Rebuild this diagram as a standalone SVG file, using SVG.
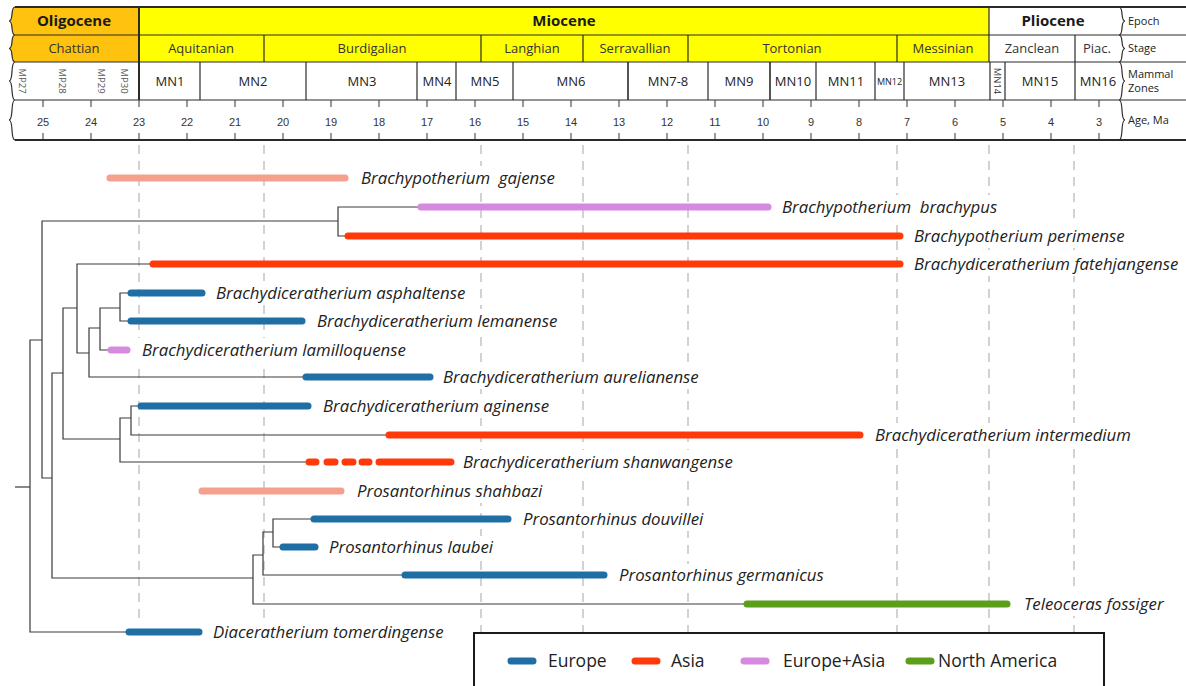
<svg xmlns="http://www.w3.org/2000/svg" width="1186" height="686" viewBox="0 0 1186 686">
<style>
.hl{stroke:#2a2a2a;stroke-width:1.2;fill:none}
.hth{stroke:#2a2a2a;stroke-width:2;fill:none}
.ep{font-family:"Open Sans",sans-serif;font-weight:bold;font-size:15px;fill:#1a1a1a;text-anchor:middle}
.st{font-family:"Open Sans",sans-serif;font-size:13px;fill:#333;text-anchor:middle}
.mn{font-family:"Open Sans",sans-serif;font-size:13px;fill:#222;text-anchor:middle}
.mp{font-family:"Open Sans",sans-serif;font-size:9.5px;fill:#555;text-anchor:middle}
.age{font-family:"Liberation Sans",Arial,sans-serif;font-size:11px;fill:#333;text-anchor:middle}
.rl{font-family:"Open Sans",sans-serif;font-size:11px;fill:#222}
.tick{stroke:#333;stroke-width:1}
.grid{stroke:#c4c4c4;stroke-width:1.5;stroke-dasharray:9 7;fill:none}
.br{stroke:#3a3a3a;stroke-width:1.2;fill:none}
.bar{stroke-width:7;stroke-linecap:round;fill:none}
.eu{stroke:#1f6fa5}
.as{stroke:#ff3a08}
.ea{stroke:#d58ae0}
.na{stroke:#5a9e1a}
.sa{stroke:#f5a08e}
.lab{font-family:"Open Sans",sans-serif;font-style:italic;font-size:16.8px;fill:#222}
.bg{fill:#fff}
.leg{font-family:"Open Sans",sans-serif;font-size:17.5px;fill:#222}
</style>

<g id="timescale">
  <path d="M15,7 C10,7 14,21 9,21 C14,21 10,35 15,35 C10,35 14,48.5 9,48.5 C14,48.5 10,62 15,62 L139,62 L139,7 Z" fill="#ffc20e"/>
  <rect x="139" y="7" width="850" height="55" fill="#ffff00"/>
  <path class="hl" d="M15,7 C10,7 14,21 9,21 C14,21 10,35 15,35 C10,35 14,48.5 9,48.5 C14,48.5 10,62 15,62 C10,62 14,81 9,81 C14,81 10,100 15,100 C10,100 14,120 9,120 C14,120 10,140 15,140"/>
  <path class="hl" d="M1119,7 C1124,7 1120,21 1125,21 C1120,21 1124,35 1119,35 C1124,35 1120,48.5 1125,48.5 C1120,48.5 1124,62 1119,62 C1124,62 1120,81 1125,81 C1120,81 1124,100 1119,100 C1124,100 1120,120 1125,120 C1120,120 1124,140 1119,140"/>
  <line class="hth" x1="15" y1="7" x2="1186" y2="7"/>
  <line class="hl" x1="15" y1="35" x2="1186" y2="35"/>
  <line class="hl" x1="15" y1="62" x2="1186" y2="62"/>
  <line class="hl" x1="15" y1="100" x2="1186" y2="100"/>
  <line class="hth" x1="15" y1="140" x2="1186" y2="140"/>
  <line class="hth" x1="139" y1="7" x2="139" y2="100"/>
  <line class="hl" x1="989" y1="7" x2="989" y2="62"/>
  <g class="hl">
    <line x1="264" y1="35" x2="264" y2="62"/>
    <line x1="481" y1="35" x2="481" y2="62"/>
    <line x1="583" y1="35" x2="583" y2="62"/>
    <line x1="688" y1="35" x2="688" y2="62"/>
    <line x1="897" y1="35" x2="897" y2="62"/>
    <line x1="1075" y1="35" x2="1075" y2="62"/>
  </g>
  <g class="hl">
    <line x1="200" y1="62" x2="200" y2="100"/>
    <line x1="306" y1="62" x2="306" y2="100"/>
    <line x1="417" y1="62" x2="417" y2="100"/>
    <line x1="456" y1="62" x2="456" y2="100"/>
    <line x1="513" y1="62" x2="513" y2="100"/>
    <line x1="628" y1="62" x2="628" y2="100" style="stroke-width:1.6"/>
    <line x1="708" y1="62" x2="708" y2="100"/>
    <line x1="770" y1="62" x2="770" y2="100" style="stroke-width:1.6"/>
    <line x1="816" y1="62" x2="816" y2="100"/>
    <line x1="875" y1="62" x2="875" y2="100"/>
    <line x1="904" y1="62" x2="904" y2="100"/>
    <line x1="990" y1="62" x2="990" y2="100"/>
    <line x1="1005" y1="62" x2="1005" y2="100"/>
    <line x1="1075" y1="62" x2="1075" y2="100"/>
  </g>
  <text class="ep" x="74" y="26">Oligocene</text>
  <text class="ep" x="564" y="26">Miocene</text>
  <text class="ep" x="1053" y="26">Pliocene</text>
  <text class="st" x="74" y="53">Chattian</text>
  <text class="st" x="201" y="53">Aquitanian</text>
  <text class="st" x="372" y="53">Burdigalian</text>
  <text class="st" x="532" y="53">Langhian</text>
  <text class="st" x="635" y="53">Serravallian</text>
  <text class="st" x="792" y="53">Tortonian</text>
  <text class="st" x="943" y="53">Messinian</text>
  <text class="st" x="1032" y="53">Zanclean</text>
  <text class="st" x="1097" y="53">Piac.</text>
  <text class="mp" transform="translate(22,81) rotate(90)" x="0" y="3.5">MP27</text>
  <text class="mp" transform="translate(62,81) rotate(90)" x="0" y="3.5">MP28</text>
  <text class="mp" transform="translate(101,81) rotate(90)" x="0" y="3.5">MP29</text>
  <text class="mp" transform="translate(124,81) rotate(90)" x="0" y="3.5">MP30</text>
  <text class="mn" x="170" y="86">MN1</text>
  <text class="mn" x="253" y="86">MN2</text>
  <text class="mn" x="362" y="86">MN3</text>
  <text class="mn" x="437" y="86">MN4</text>
  <text class="mn" x="485" y="86">MN5</text>
  <text class="mn" x="571" y="86">MN6</text>
  <text class="mn" x="668" y="86">MN7-8</text>
  <text class="mn" x="739" y="86">MN9</text>
  <text class="mn" x="793" y="86">MN10</text>
  <text class="mn" x="846" y="86">MN11</text>
  <text class="mn" x="889.5" y="85" style="font-size:9px">MN12</text>
  <text class="mp" transform="translate(997.5,81) rotate(90)" x="0" y="3.5" style="fill:#333">MN14</text>
  <text class="mn" x="947" y="86">MN13</text>
  <text class="mn" x="1040" y="86">MN15</text>
  <text class="mn" x="1098" y="86">MN16</text>
  <text class="rl" x="1128" y="25">Epoch</text>
  <text class="rl" x="1128" y="52">Stage</text>
  <text class="rl" x="1128" y="78">Mammal</text>
  <text class="rl" x="1128" y="92">Zones</text>
  <text class="rl" x="1128" y="124">Age, Ma</text>
  <g class="tick">
    <line x1="43" y1="100" x2="43" y2="107"/><line x1="43" y1="133" x2="43" y2="140"/>
    <line x1="91" y1="100" x2="91" y2="107"/><line x1="91" y1="133" x2="91" y2="140"/>
    <line x1="139" y1="100" x2="139" y2="107"/><line x1="139" y1="133" x2="139" y2="140"/>
    <line x1="187" y1="100" x2="187" y2="107"/><line x1="187" y1="133" x2="187" y2="140"/>
    <line x1="235" y1="100" x2="235" y2="107"/><line x1="235" y1="133" x2="235" y2="140"/>
    <line x1="283" y1="100" x2="283" y2="107"/><line x1="283" y1="133" x2="283" y2="140"/>
    <line x1="331" y1="100" x2="331" y2="107"/><line x1="331" y1="133" x2="331" y2="140"/>
    <line x1="379" y1="100" x2="379" y2="107"/><line x1="379" y1="133" x2="379" y2="140"/>
    <line x1="427" y1="100" x2="427" y2="107"/><line x1="427" y1="133" x2="427" y2="140"/>
    <line x1="475" y1="100" x2="475" y2="107"/><line x1="475" y1="133" x2="475" y2="140"/>
    <line x1="523" y1="100" x2="523" y2="107"/><line x1="523" y1="133" x2="523" y2="140"/>
    <line x1="571" y1="100" x2="571" y2="107"/><line x1="571" y1="133" x2="571" y2="140"/>
    <line x1="619" y1="100" x2="619" y2="107"/><line x1="619" y1="133" x2="619" y2="140"/>
    <line x1="667" y1="100" x2="667" y2="107"/><line x1="667" y1="133" x2="667" y2="140"/>
    <line x1="715" y1="100" x2="715" y2="107"/><line x1="715" y1="133" x2="715" y2="140"/>
    <line x1="763" y1="100" x2="763" y2="107"/><line x1="763" y1="133" x2="763" y2="140"/>
    <line x1="811" y1="100" x2="811" y2="107"/><line x1="811" y1="133" x2="811" y2="140"/>
    <line x1="859" y1="100" x2="859" y2="107"/><line x1="859" y1="133" x2="859" y2="140"/>
    <line x1="907" y1="100" x2="907" y2="107"/><line x1="907" y1="133" x2="907" y2="140"/>
    <line x1="955" y1="100" x2="955" y2="107"/><line x1="955" y1="133" x2="955" y2="140"/>
    <line x1="1003" y1="100" x2="1003" y2="107"/><line x1="1003" y1="133" x2="1003" y2="140"/>
    <line x1="1051" y1="100" x2="1051" y2="107"/><line x1="1051" y1="133" x2="1051" y2="140"/>
    <line x1="1099" y1="100" x2="1099" y2="107"/><line x1="1099" y1="133" x2="1099" y2="140"/>
  </g>
  <g>
    <text class="age" x="43" y="126">25</text>
    <text class="age" x="91" y="126">24</text>
    <text class="age" x="139" y="126">23</text>
    <text class="age" x="187" y="126">22</text>
    <text class="age" x="235" y="126">21</text>
    <text class="age" x="283" y="126">20</text>
    <text class="age" x="331" y="126">19</text>
    <text class="age" x="379" y="126">18</text>
    <text class="age" x="427" y="126">17</text>
    <text class="age" x="475" y="126">16</text>
    <text class="age" x="523" y="126">15</text>
    <text class="age" x="571" y="126">14</text>
    <text class="age" x="619" y="126">13</text>
    <text class="age" x="667" y="126">12</text>
    <text class="age" x="715" y="126">11</text>
    <text class="age" x="763" y="126">10</text>
    <text class="age" x="811" y="126">9</text>
    <text class="age" x="859" y="126">8</text>
    <text class="age" x="907" y="126">7</text>
    <text class="age" x="955" y="126">6</text>
    <text class="age" x="1003" y="126">5</text>
    <text class="age" x="1051" y="126">4</text>
    <text class="age" x="1099" y="126">3</text>
  </g>
</g>

<g id="gridlines" class="grid">
  <line x1="139" y1="145" x2="139" y2="620"/>
  <line x1="264" y1="145" x2="264" y2="620"/>
  <line x1="481" y1="145" x2="481" y2="632"/>
  <line x1="583" y1="145" x2="583" y2="632"/>
  <line x1="688" y1="145" x2="688" y2="632"/>
  <line x1="897" y1="145" x2="897" y2="632"/>
  <line x1="989" y1="145" x2="989" y2="632"/>
  <line x1="1074" y1="145" x2="1074" y2="632"/>
</g>

<g id="label-backgrounds" class="bg">
  <rect x="357" y="166" width="202" height="24"/>
  <rect x="778" y="195" width="223" height="24"/>
  <rect x="910" y="224" width="218" height="24"/>
  <rect x="910" y="252" width="274" height="24"/>
  <rect x="212" y="281" width="257" height="24"/>
  <rect x="313" y="309" width="248" height="24"/>
  <rect x="138" y="338" width="272" height="24"/>
  <rect x="439" y="365" width="264" height="24"/>
  <rect x="319" y="394" width="234" height="24"/>
  <rect x="871" y="423" width="264" height="24"/>
  <rect x="459" y="450" width="278" height="24"/>
  <rect x="353" y="479" width="194" height="24"/>
  <rect x="519" y="507" width="188" height="24"/>
  <rect x="325" y="536" width="172" height="24"/>
  <rect x="615" y="564" width="212" height="24"/>
  <rect x="1020" y="592" width="147" height="24"/>
  <rect x="209" y="620" width="238" height="24"/>
</g>

<g id="connectors" class="br">
  <path d="M15,487 H30"/>
  <path d="M128,632 H30 V340 H42"/>
  <path d="M338,221 H42 V478 H52"/>
  <path d="M420,207 H338 V236 H347"/>
  <path d="M63,373 H52 V578 H253"/>
  <path d="M77,308 H63 V439 H120"/>
  <path d="M153,264 H77 V353 H89"/>
  <path d="M100,328 H89 V377 H305"/>
  <path d="M120,308 H100 V350 H110"/>
  <path d="M130,293 H120 V321 H130"/>
  <path d="M131,418 H120 V462 H307"/>
  <path d="M140,406 H131 V435 H388"/>
  <path d="M263,555 H253 V604 H746"/>
  <path d="M273,532 H263 V575 H404"/>
  <path d="M313,519 H273 V547 H282"/>
</g>

<g id="taxon-gajense">
  <line class="bar sa" x1="110" y1="178" x2="345" y2="178"/>
  <text class="lab" x="361" y="184" xml:space="preserve">Brachypotherium  gajense</text>
</g>
<g id="taxon-brachypus">
  <line class="bar ea" x1="421" y1="207" x2="768" y2="207"/>
  <text class="lab" x="782" y="213" xml:space="preserve">Brachypotherium  brachypus</text>
</g>
<g id="taxon-perimense">
  <line class="bar as" x1="348" y1="236" x2="900" y2="236"/>
  <text class="lab" x="914" y="242">Brachypotherium perimense</text>
</g>
<g id="taxon-fatehjangense">
  <line class="bar as" x1="153" y1="264" x2="900" y2="264"/>
  <text class="lab" x="914" y="270">Brachydiceratherium fatehjangense</text>
</g>
<g id="taxon-asphaltense">
  <line class="bar eu" x1="131" y1="293" x2="202" y2="293"/>
  <text class="lab" x="216" y="299">Brachydiceratherium asphaltense</text>
</g>
<g id="taxon-lemanense">
  <line class="bar eu" x1="131" y1="321" x2="302" y2="321"/>
  <text class="lab" x="317" y="327">Brachydiceratherium lemanense</text>
</g>
<g id="taxon-lamilloquense">
  <line class="bar ea" x1="111" y1="350" x2="127" y2="350"/>
  <text class="lab" x="142" y="356">Brachydiceratherium lamilloquense</text>
</g>
<g id="taxon-aurelianense">
  <line class="bar eu" x1="306" y1="377" x2="430" y2="377"/>
  <text class="lab" x="443" y="383">Brachydiceratherium aurelianense</text>
</g>
<g id="taxon-aginense">
  <line class="bar eu" x1="141" y1="406" x2="308" y2="406"/>
  <text class="lab" x="323" y="412">Brachydiceratherium aginense</text>
</g>
<g id="taxon-intermedium">
  <line class="bar as" x1="389" y1="435" x2="860" y2="435"/>
  <text class="lab" x="875" y="441">Brachydiceratherium intermedium</text>
</g>
<g id="taxon-shanwangense">
  <path class="bar as" d="M309,462 H316 M327,462 H335 M345,462 H353 M362,462 H369 M379,462 H451"/>
  <text class="lab" x="463" y="468">Brachydiceratherium shanwangense</text>
</g>
<g id="taxon-shahbazi">
  <line class="bar sa" x1="202" y1="491" x2="341" y2="491"/>
  <text class="lab" x="357" y="497">Prosantorhinus shahbazi</text>
</g>
<g id="taxon-douvillei">
  <line class="bar eu" x1="314" y1="519" x2="508" y2="519"/>
  <text class="lab" x="523" y="525">Prosantorhinus douvillei</text>
</g>
<g id="taxon-laubei">
  <line class="bar eu" x1="283" y1="547" x2="315" y2="547"/>
  <text class="lab" x="329" y="553">Prosantorhinus laubei</text>
</g>
<g id="taxon-germanicus">
  <line class="bar eu" x1="405" y1="575" x2="604" y2="575"/>
  <text class="lab" x="619" y="581">Prosantorhinus germanicus</text>
</g>
<g id="taxon-fossiger">
  <line class="bar na" x1="747" y1="604" x2="1007" y2="604"/>
  <text class="lab" x="1024" y="610">Teleoceras fossiger</text>
</g>
<g id="taxon-tomerdingense">
  <line class="bar eu" x1="129" y1="632" x2="199" y2="632"/>
  <text class="lab" x="213" y="638">Diaceratherium tomerdingense</text>
</g>

<g id="legend">
  <rect x="474" y="633" width="630" height="60" fill="#fff" stroke="#1a1a1a" stroke-width="2"/>
  <line class="bar eu" x1="511" y1="661" x2="533" y2="661"/>
  <text class="leg" x="548" y="667">Europe</text>
  <line class="bar as" x1="635" y1="661" x2="657" y2="661"/>
  <text class="leg" x="671" y="667">Asia</text>
  <line class="bar ea" x1="744" y1="661" x2="766" y2="661"/>
  <text class="leg" x="783" y="667">Europe+Asia</text>
  <line class="bar na" x1="909" y1="661" x2="931" y2="661"/>
  <text class="leg" x="938" y="667">North America</text>
</g>
</svg>
